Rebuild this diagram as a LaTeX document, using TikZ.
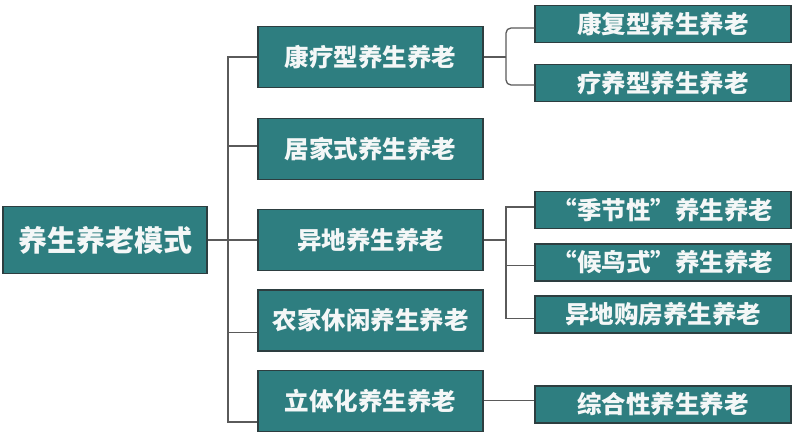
\documentclass[tikz,border=0pt]{standalone}
\usepackage{fontspec}
\setmainfont{Noto Sans CJK SC}
\definecolor{boxfill}{RGB}{46,126,128}
\definecolor{boxline}{RGB}{45,62,64}
\definecolor{conncol}{RGB}{90,90,90}
\definecolor{txtcol}{RGB}{244,247,247}
\begin{document}
\begin{tikzpicture}[x=1pt,y=-1pt,
  box/.style={draw=boxline, line width=1.3pt, fill=boxfill, text=txtcol,
    font=\bfseries\fontsize{24.5}{26}\selectfont, inner sep=0pt, anchor=center},
  rootbox/.style={box, minimum width=204pt, minimum height=67pt,
    font=\bfseries\fontsize{29}{31}\selectfont},
  midbox/.style={box, minimum width=225pt, minimum height=61pt},
  rbox/.style={box, minimum width=256pt, minimum height=37pt},
  conn/.style={draw=conncol, line width=1.3pt}]
\useasboundingbox[fill=white] (0,0) rectangle (800,438);

\node[rootbox] (root) at (105,240) {养生养老模式};

\node[midbox] (b1) at (370.5,57) {康疗型养生养老};
\node[midbox] (b2) at (370.5,149) {居家式养生养老};
\node[midbox] (b3) at (370.5,240) {异地养生养老};
\node[midbox] (b4) at (370.5,320.5) {农家休闲养生养老};
\node[midbox] (b5) at (370.5,401) {立体化养生养老};

\node[rbox] (r1) at (663,24) {康复型养生养老};
\node[rbox] (r2) at (663,83) {疗养型养生养老};
\node[rbox] (r3) at (663,210) {“季节性”养生养老};
\node[rbox] (r4) at (663,262.5) {“候鸟式”养生养老};
\node[rbox] (r5) at (663,314.5) {异地购房养生养老};
\node[rbox] (r6) at (663,404.5) {综合性养生养老};

\coordinate (t) at (228,240);
\coordinate (k1) at (506,57);
\coordinate (k3) at (506,240);

% trunk
\draw[conn] (root.east) -- (t);
\draw[conn] (b1.west) -- (b1.west -| t) -- ([yshift=-21pt]b5.west -| t) -- ([yshift=-21pt]b5.west);
\draw[conn] ([yshift=3pt]b2.west -| t) -- ([yshift=3pt]b2.west);
\draw[conn] (t) -- (b3.west);
\draw[conn] ([yshift=-12pt]b4.west -| t) -- ([yshift=-12pt]b4.west);

% bracket of b1
\draw[conn] (b1.east) -- (k1);
\draw[conn, rounded corners=5pt] ([yshift=-4pt]r1.west) -| (k1) |- ([yshift=-2pt]r2.west);

% bracket of b3
\draw[conn] (b3.east) -- (k3);
\draw[conn] ([yshift=3pt]r3.west) -| (k3) |- ([yshift=-4pt]r5.west);
\draw[conn] ([yshift=-3pt]r4.west -| k3) -- ([yshift=-3pt]r4.west);

% b5 to r6
\draw[conn] ([yshift=4pt]r6.west -| b5.east) -- ([yshift=4pt]r6.west);
\end{tikzpicture}
\end{document}
